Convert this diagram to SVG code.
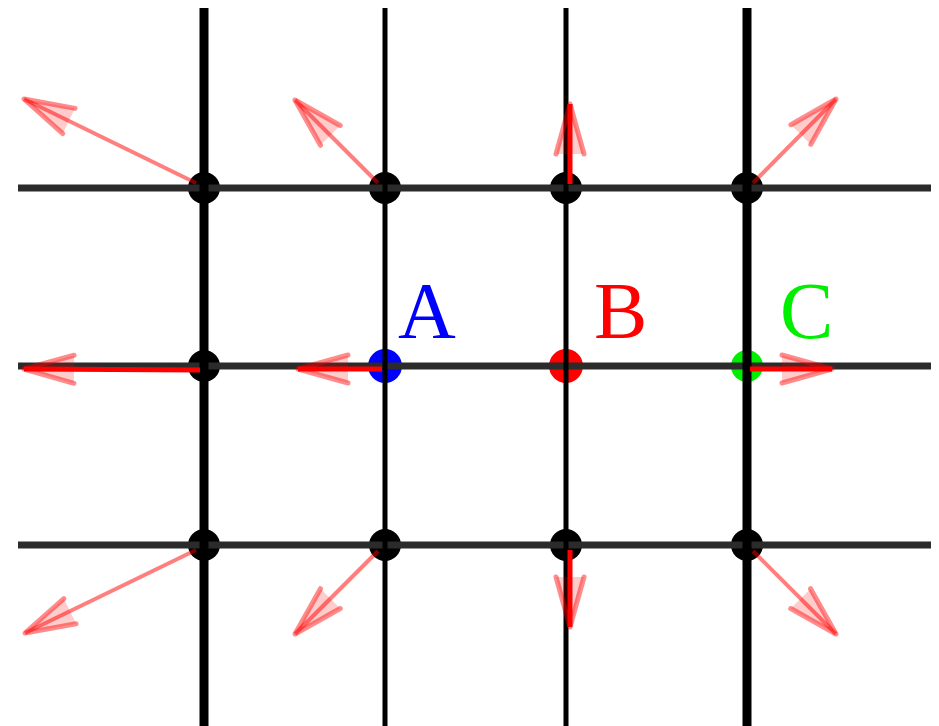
<svg xmlns="http://www.w3.org/2000/svg" width="939" height="726" viewBox="0 0 939 726">
  <style>
    .hline { stroke: #2b2b2b; stroke-width: 7; }
    .vthick { stroke: #000; stroke-width: 9; }
    .vthin { stroke: #000; stroke-width: 5; }
    .dot { fill: #000; }
    .lbl { font-family: "Liberation Serif", "Times New Roman", serif; font-size: 80px; }
    .diag { stroke: #ff0000; stroke-opacity: 0.5; stroke-width: 4; fill: none; }
    .axis { stroke: #ff0000; stroke-width: 5; fill: none; }
  </style>
  <defs>
    <marker id="head" markerUnits="userSpaceOnUse" markerWidth="80" markerHeight="60" refX="0" refY="0" orient="auto" overflow="visible">
      <path d="M -50 -14 L 0 0 L -50 14" fill="#ff0000" fill-opacity="0.2" stroke="#ff0000" stroke-opacity="0.45" stroke-width="5" stroke-linejoin="round" stroke-linecap="round"/>
    </marker>
  </defs>
  <rect width="939" height="726" fill="#fff"/>

  <g id="nodes">
    <g id="n11"><circle class="dot" cx="204" cy="188" r="16"/></g>
    <g id="n12"><circle class="dot" cx="385" cy="188" r="16"/></g>
    <g id="n13"><circle class="dot" cx="566" cy="188" r="16"/></g>
    <g id="n14"><circle class="dot" cx="747" cy="188" r="16"/></g>
    <g id="n21"><circle class="dot" cx="204" cy="366" r="16"/></g>
    <g id="nodeA">
      <circle cx="385" cy="366" r="17" fill="#0000ff"/>
      <text class="lbl" x="398" y="338" fill="#0000ff">A</text>
    </g>
    <g id="nodeB">
      <circle cx="566" cy="366" r="17" fill="#ff0000"/>
      <text class="lbl" x="594" y="338" fill="#ff0000">B</text>
    </g>
    <g id="nodeC">
      <circle cx="747" cy="366" r="16" fill="#00ee00"/>
      <text class="lbl" x="780" y="338" fill="#00ee00">C</text>
    </g>
    <g id="n31"><circle class="dot" cx="204" cy="545" r="16"/></g>
    <g id="n32"><circle class="dot" cx="385" cy="545" r="16"/></g>
    <g id="n33"><circle class="dot" cx="566" cy="545" r="16"/></g>
    <g id="n34"><circle class="dot" cx="747" cy="545" r="16"/></g>
  </g>

  <g id="grid">
    <line class="hline" x1="18" y1="188" x2="931" y2="188"/>
    <line class="hline" x1="18" y1="366" x2="931" y2="366"/>
    <line class="hline" x1="18" y1="545" x2="931" y2="545"/>
    <line class="vthick" x1="204" y1="8" x2="204" y2="726"/>
    <line class="vthin" x1="385" y1="8" x2="385" y2="726"/>
    <line class="vthin" x1="566" y1="8" x2="566" y2="726"/>
    <line class="vthick" x1="747" y1="8" x2="747" y2="726"/>
  </g>

  <g id="connectors">
    <line class="diag" x1="196" y1="183" x2="24" y2="99" marker-end="url(#head)"/>
    <line class="diag" x1="378" y1="183" x2="295" y2="100" marker-end="url(#head)"/>
    <line class="axis" x1="570" y1="184" x2="570" y2="104" marker-end="url(#head)"/>
    <line class="diag" x1="753" y1="183" x2="836" y2="99" marker-end="url(#head)"/>

    <line class="axis" x1="200" y1="370" x2="24" y2="369" marker-end="url(#head)"/>
    <line class="axis" x1="382" y1="369" x2="298" y2="369" marker-end="url(#head)"/>
    <line class="axis" x1="750" y1="369" x2="832" y2="369" marker-end="url(#head)"/>

    <line class="diag" x1="196" y1="550" x2="25" y2="633" marker-end="url(#head)"/>
    <line class="diag" x1="378" y1="551" x2="295" y2="634" marker-end="url(#head)"/>
    <line class="axis" x1="570" y1="550" x2="570" y2="627" marker-end="url(#head)"/>
    <line class="diag" x1="753" y1="551" x2="836" y2="634" marker-end="url(#head)"/>
  </g>
</svg>
